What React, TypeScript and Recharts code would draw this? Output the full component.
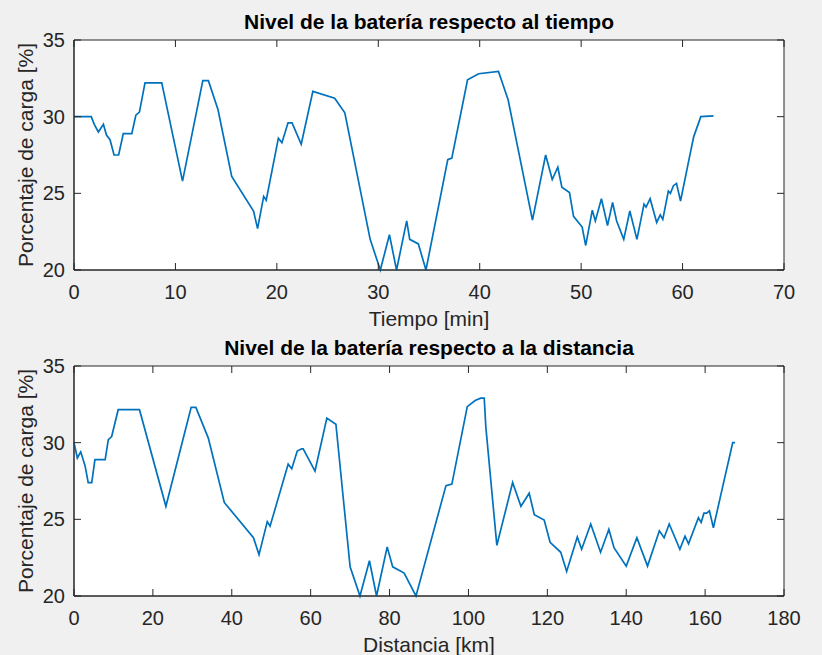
import React from "react";
import { LineChart, Line, XAxis, YAxis, CartesianGrid, ReferenceArea } from "recharts";

// Nivel de batería vs tiempo (min)
const tiempoMin = [
  0, 1.7, 2.0, 2.4, 2.9, 3.2, 3.55, 3.95, 4.4, 4.86, 5.7, 6.1, 6.45, 7.0, 8.65,
  10.7, 12.7, 13.25, 14.2, 15.55, 17.7, 18.1, 18.7, 18.95, 20.15, 20.5, 21.1,
  21.5, 22.4, 23.55, 25.7, 26.7, 29.2, 30.2, 31.1, 31.8, 32.8, 33.1, 33.95,
  34.7, 36.85, 37.25, 38.8, 39.9, 41.85, 42.8, 45.2, 46.5, 47.15, 47.7, 48.1,
  48.85, 49.25, 50.1, 50.45, 51.1, 51.4, 52.0, 52.6, 53.1, 53.5, 54.2, 54.8,
  55.5, 56.2, 56.4, 56.8, 57.45, 57.8, 58.05, 58.6, 58.8, 59.1, 59.4, 59.8,
  60.6, 61.1, 61.8, 63.05,
];
const cargaTiempo = [
  30, 30, 29.5, 29.0, 29.5, 28.8, 28.5, 27.5, 27.5, 28.9, 28.9, 30.1, 30.3,
  32.2, 32.2, 25.8, 32.35, 32.35, 30.45, 26.1, 23.85, 22.7, 24.8, 24.55, 28.6,
  28.3, 29.6, 29.6, 28.2, 31.65, 31.2, 30.25, 22.0, 20.0, 22.3, 20.0, 23.2,
  22.0, 21.7, 20.0, 27.2, 27.3, 32.4, 32.8, 32.95, 31.1, 23.25, 27.5, 25.9,
  26.7, 25.4, 25.05, 23.5, 22.8, 21.6, 23.9, 23.2, 24.65, 22.9, 24.4, 23.2,
  22.0, 23.85, 22.0, 24.3, 24.1, 24.65, 23.1, 23.6, 23.3, 25.15, 25.0, 25.5,
  25.65, 24.5, 27.1, 28.7, 30.0, 30.05,
];

// Nivel de batería vs distancia (km)
const distanciaKm = [
  0, 0.85, 1.7, 2.8, 3.6, 4.5, 5.3, 7.9, 8.7, 9.55, 11.2, 16.6, 23.3, 29.7,
  30.9, 34.05, 38.1, 45.5, 46.9, 49.0, 49.7, 54.3, 55.2, 56.6, 57.7, 58.1, 61.1,
  64.1, 66.4, 70.0, 72.5, 74.9, 76.7, 79.4, 80.8, 83.7, 86.7, 94.3, 95.8, 99.7,
  101.7, 103.1, 104.0, 104.4, 107.2, 111.2, 113.3, 115.4, 116.7, 119.2, 120.7,
  123.4, 124.9, 127.6, 128.7, 131.0, 133.5, 135.6, 136.9, 140.0, 142.7, 145.4,
  148.4, 149.6, 150.9, 153.6, 154.9, 155.8, 158.3, 159.0, 159.7, 160.4, 161.1,
  162.1, 164.6, 166.2, 167.0, 167.6,
];
const cargaDistancia = [
  30, 29.0, 29.4, 28.5, 27.4, 27.4, 28.9, 28.9, 30.2, 30.4, 32.15, 32.15, 25.85,
  32.3, 32.3, 30.3, 26.1, 23.8, 22.7, 24.85, 24.55, 28.6, 28.3, 29.45, 29.6,
  29.6, 28.15, 31.6, 31.2, 21.9, 20.0, 22.3, 20.0, 23.2, 21.9, 21.5, 20.0, 27.2,
  27.3, 32.35, 32.75, 32.9, 32.9, 31.05, 23.3, 27.4, 25.85, 26.7, 25.3, 24.95,
  23.5, 22.85, 21.6, 23.85, 23.05, 24.7, 22.85, 24.35, 23.15, 21.95, 23.8,
  21.95, 24.25, 23.8, 24.7, 23.05, 23.9, 23.4, 25.1, 24.8, 25.4, 25.4, 25.55,
  24.45, 27.3, 29.1, 30.0, 30.0,
];

const ticksTiempo = [0, 10, 20, 30, 40, 50, 60, 70];
const ticksDistancia = [0, 20, 40, 60, 80, 100, 120, 140, 160, 180];
const ticksCarga = [20, 25, 30, 35];

const AXIS = "#262626";
const LINE = "#0072bd";
const FONT = "'Liberation Sans', Arial, sans-serif";
const PLOT_W = 710;
const PLOT_H = 230;

// tick label baseline sits 29px under the axis; the mirrored tick on the top edge is drawn here too
const XTick = (props: any) => {
  const axisY = props.y - 29;
  return (
    <g>
      <line x1={props.x} x2={props.x} y1={axisY - PLOT_H} y2={axisY - PLOT_H + 7} stroke={AXIS} />
      <text x={props.x} y={props.y} textAnchor="middle" fontSize={20} fill={AXIS} fontFamily={FONT}>
        {props.payload.value}
      </text>
    </g>
  );
};

const YTick = (props: any) => {
  const axisX = props.x + 9;
  return (
    <g>
      <line x1={axisX + PLOT_W} x2={axisX + PLOT_W - 7} y1={props.y} y2={props.y} stroke={AXIS} />
      <text x={props.x} y={props.y} dy={7} textAnchor="end" fontSize={20} fill={AXIS} fontFamily={FONT}>
        {props.payload.value}
      </text>
    </g>
  );
};

function Panel({ data, xTicks, title, xLabel, height, top }: any) {
  const xMax = xTicks[xTicks.length - 1];
  return (
    <LineChart
      width={822}
      height={height}
      data={data}
      margin={{ top, right: 38, bottom: 0, left: 0 }}
    >
      <CartesianGrid fill="#ffffff" horizontal={false} vertical={false} />
      <ReferenceArea x1={0} x2={xMax} y1={20} y2={35} fill="none" stroke={AXIS} strokeOpacity={1} />
      <XAxis
        dataKey="x"
        type="number"
        domain={[0, xMax]}
        ticks={xTicks}
        height={height - top - PLOT_H}
        stroke={AXIS}
        tickSize={-7}
        tickMargin={36}
        tick={<XTick />}
        label={{
          content: (p: any) => (
            <g>
              <text
                x={p.viewBox.x + p.viewBox.width / 2}
                y={p.viewBox.y + 56}
                textAnchor="middle"
                fontSize={21}
                fill={AXIS}
                fontFamily={FONT}
              >
                {xLabel}
              </text>
              <text
                x={p.viewBox.x + p.viewBox.width / 2}
                y={p.viewBox.y - PLOT_H - 11}
                textAnchor="middle"
                fontSize={21}
                fontWeight="bold"
                fill="#000"
                fontFamily={FONT}
              >
                {title}
              </text>
            </g>
          ),
        }}
      />
      <YAxis
        type="number"
        domain={[20, 35]}
        ticks={ticksCarga}
        width={74}
        stroke={AXIS}
        tickSize={-7}
        tickMargin={16}
        tick={<YTick />}
        label={{
          content: (p: any) => {
            const cy = p.viewBox.y + p.viewBox.height / 2;
            return (
              <text
                x={33}
                y={cy}
                transform={`rotate(-90, 33, ${cy})`}
                textAnchor="middle"
                fontSize={21}
                fill={AXIS}
                fontFamily={FONT}
              >
                Porcentaje de carga [%]
              </text>
            );
          },
        }}
      />
      <Line
        type="linear"
        dataKey="y"
        stroke={LINE}
        strokeWidth={1.7}
        dot={false}
        isAnimationActive={false}
      />
    </LineChart>
  );
}

export default function App() {
  const dataTiempo = tiempoMin.map((x, i) => ({ x, y: cargaTiempo[i] }));
  const dataDistancia = distanciaKm.map((x, i) => ({ x, y: cargaDistancia[i] }));
  return (
    <div
      style={{
        position: "absolute",
        left: 0,
        top: 0,
        width: 822,
        height: 655,
        background: "#f0f0f0",
        fontFamily: FONT,
        overflow: "hidden",
      }}
    >
      <div style={{ position: "absolute", left: 0, top: 0 }}>
        <Panel
          data={dataTiempo}
          xTicks={ticksTiempo}
          title="Nivel de la batería respecto al tiempo"
          xLabel="Tiempo [min]"
          height={340}
          top={40}
        />
      </div>
      <div style={{ position: "absolute", left: 0, top: 327 }}>
        <Panel
          data={dataDistancia}
          xTicks={ticksDistancia}
          title="Nivel de la batería respecto a la distancia"
          xLabel="Distancia [km]"
          height={328}
          top={39}
        />
      </div>
    </div>
  );
}
